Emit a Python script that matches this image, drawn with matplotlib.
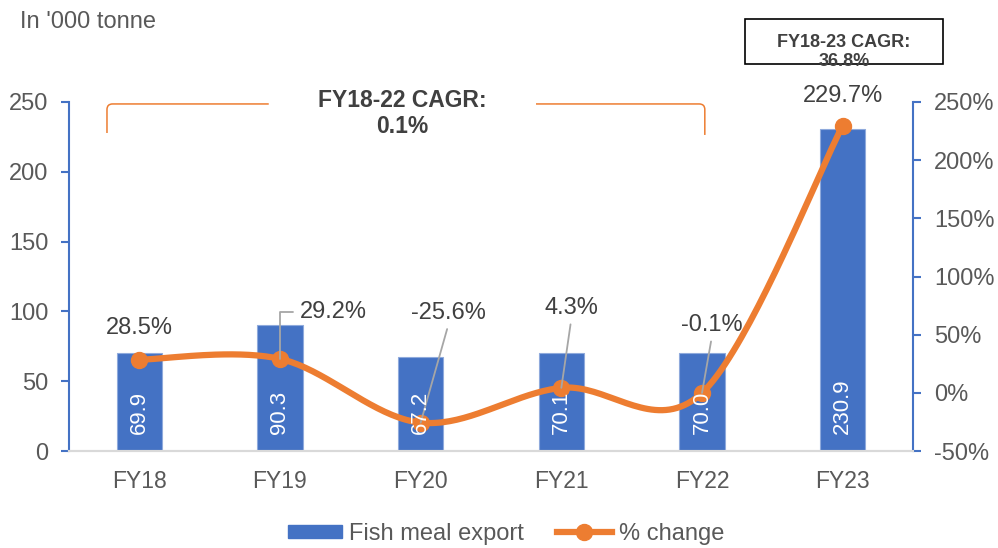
import numpy as np
import matplotlib
matplotlib.use("Agg")
import matplotlib.pyplot as plt
from matplotlib.patches import Rectangle
from matplotlib.path import Path
from matplotlib.patches import PathPatch

plt.rcParams['font.family'] = ['Liberation Sans', 'DejaVu Sans']

# data
years = ["FY18", "FY19", "FY20", "FY21", "FY22", "FY23"]
export_kt = [69.9, 90.3, 67.2, 70.1, 70.0, 230.9]
pct_change = [28.5, 29.2, -25.6, 4.3, -0.1, 229.7]
# label offsets (pixels) for the % labels, and whether a leader is drawn
pct_offsets = [(0, 32), (53, 47), (28, 110), (10, 80), (10, 68), (0, 30)]
pct_leader = [False, True, True, True, True, False]

BLUE = "#4472C4"
ORANGE = "#ED7D31"
GREY_TXT = "#595959"
DARK_TXT = "#404040"


def smooth_curve(xs, ys, n=40):
    """Catmull-Rom style smoothing, like a spreadsheet 'smoothed line'."""
    xs = np.asarray(xs, float)
    ys = np.asarray(ys, float)
    m = len(xs)
    tx, ty = np.zeros(m), np.zeros(m)
    for i in range(m):
        a = max(i - 1, 0)
        b = min(i + 1, m - 1)
        tx[i] = (xs[b] - xs[a]) / 2
        ty[i] = (ys[b] - ys[a]) / 2
    out_x, out_y = [], []
    t = np.linspace(0, 1, n)
    h00 = 2 * t**3 - 3 * t**2 + 1
    h10 = t**3 - 2 * t**2 + t
    h01 = -2 * t**3 + 3 * t**2
    h11 = t**3 - t**2
    for i in range(m - 1):
        out_x.append(h00 * xs[i] + h10 * tx[i] + h01 * xs[i + 1] + h11 * tx[i + 1])
        out_y.append(h00 * ys[i] + h10 * ty[i] + h01 * ys[i + 1] + h11 * ty[i + 1])
    return np.concatenate(out_x), np.concatenate(out_y)


fig = plt.figure(figsize=(9.98, 5.48), dpi=100)
ax = fig.add_axes([69 / 998, 1 - 451 / 548, (913 - 69) / 998, (451 - 102) / 548])
ax2 = ax.twinx()

x = np.arange(len(years))
ax.bar(x, export_kt, width=0.32, color=BLUE, edgecolor="#8FAADC", linewidth=0.8, zorder=2)
ax.set_xlim(-0.5, len(years) - 0.5)
ax.set_ylim(0, 250)
ax.set_yticks(np.arange(0, 251, 50))
ax.set_xticks(x)
ax.set_xticklabels(years)

ax2.set_ylim(-50, 250)
ax2.set_yticks(np.arange(-50, 251, 50))
ax2.set_yticklabels([f"{v}%" for v in range(-50, 251, 50)])

for a in (ax, ax2):
    a.spines["top"].set_visible(False)
    a.spines["left"].set_color(BLUE)
    a.spines["right"].set_color(BLUE)
    a.spines["left"].set_linewidth(1.5)
    a.spines["right"].set_linewidth(1.5)
    a.spines["bottom"].set_color("#D9D9D9")
    a.spines["bottom"].set_linewidth(1.5)
ax.spines["right"].set_visible(False)
ax2.spines["left"].set_visible(False)
ax.tick_params(axis="y", colors=BLUE, length=6, width=1.5, labelcolor=GREY_TXT, labelsize=17, pad=9)
ax2.tick_params(axis="y", colors=BLUE, length=6, width=1.5, labelcolor=GREY_TXT, labelsize=17, pad=9)
ax.tick_params(axis="x", length=0, labelcolor=GREY_TXT, labelsize=16.5, pad=14)

# smoothed % change line
sx, sy = smooth_curve(x, pct_change)
ax2.plot(sx, sy, color=ORANGE, linewidth=4.5, solid_capstyle="round", zorder=3)
ax2.plot(x, pct_change, "o", color=ORANGE, markersize=11.5, zorder=4)

# % labels with leaders
for i, (v, (dx, dy), lead) in enumerate(zip(pct_change, pct_offsets, pct_leader)):
    txt = f"{v:.1f}%"
    if i == 1:
        ax2.annotate(txt, xy=(i, v), xytext=(dx, dy), textcoords="offset pixels",
                     ha="center", va="center", fontsize=17, color=DARK_TXT, zorder=6,
                     arrowprops=dict(arrowstyle="-", color="#A6A6A6", lw=1.3,
                                     connectionstyle="angle,angleA=0,angleB=90,rad=0",
                                     relpos=(0, 0.5), shrinkA=3, shrinkB=0))
    elif lead:
        ax2.annotate(txt, xy=(i, v), xytext=(dx, dy), textcoords="offset pixels",
                     ha="center", va="center", fontsize=17, color=DARK_TXT, zorder=6,
                     arrowprops=dict(arrowstyle="-", color="#A6A6A6", lw=1.3,
                                     relpos=(0.5, 0.0), shrinkA=2, shrinkB=0))
    else:
        ax2.annotate(txt, xy=(i, v), xytext=(dx, dy), textcoords="offset pixels",
                     ha="center", va="center", fontsize=17, color=DARK_TXT, zorder=6,
                     annotation_clip=False)

# bar values, drawn above the line
for i, v in enumerate(export_kt):
    ax2.annotate(f"{v:.1f}", xy=(i, 0), xycoords=ax.transData, xytext=(0, 17),
                 textcoords="offset pixels", rotation=90, ha="center", va="bottom",
                 fontsize=16, color="white", zorder=7)

# CAGR bracket over FY18-FY22
x_l, x_r = -0.23, 4.02
y_top, y_bot_l, y_bot_r = 248.6, 227.8, 226.4
r = 0.04
verts = [(x_l, y_bot_l), (x_l, y_top - 4), (x_l, y_top), (x_l + r, y_top), (0.92, y_top)]
codes = [Path.MOVETO, Path.LINETO, Path.CURVE3, Path.CURVE3, Path.LINETO]
ax.add_patch(PathPatch(Path(verts, codes), fill=False, edgecolor=ORANGE, lw=1.1,
                       clip_on=False, zorder=5))
verts = [(2.82, y_top), (x_r - r, y_top), (x_r, y_top), (x_r, y_top - 4), (x_r, y_bot_r)]
codes = [Path.MOVETO, Path.LINETO, Path.CURVE3, Path.CURVE3, Path.LINETO]
ax.add_patch(PathPatch(Path(verts, codes), fill=False, edgecolor=ORANGE, lw=1.1,
                       clip_on=False, zorder=5))
ax.text(1.87, 241.8, "FY18-22 CAGR:\n0.1%", ha="center", va="center", fontsize=16.5,
        fontweight="bold", color=DARK_TXT, linespacing=1.15, clip_on=False, zorder=6)

# CAGR box for FY18-23
fig.patches.append(Rectangle((745 / 998, 1 - 64 / 548), 198 / 998, 45 / 548,
                             transform=fig.transFigure, fill=False, edgecolor="black",
                             linewidth=1.2))
fig.text(844 / 998, 1 - 52 / 548, "FY18-23 CAGR:\n36.8%", ha="center", va="center",
         fontsize=13, fontweight="bold", color=DARK_TXT, linespacing=1.15)

fig.text(20 / 998, 1 - 22 / 548, "In '000 tonne", ha="left", va="center",
         fontsize=17, color=GREY_TXT)

h1 = plt.Rectangle((0, 0), 1, 1, color=BLUE)
h2, = ax2.plot([], [], color=ORANGE, lw=4.5, marker="o", markersize=11.5)
leg = fig.legend([h1, h2], ["Fish meal export", "% change"], loc="center",
                 bbox_to_anchor=(506 / 998, 1 - 534 / 548), ncol=2, frameon=False,
                 fontsize=17, handlelength=2.3, handleheight=0.5, columnspacing=1.4,
                 handletextpad=0.3)
for t in leg.get_texts():
    t.set_color(GREY_TXT)

fig.savefig("out.png", dpi=100)
